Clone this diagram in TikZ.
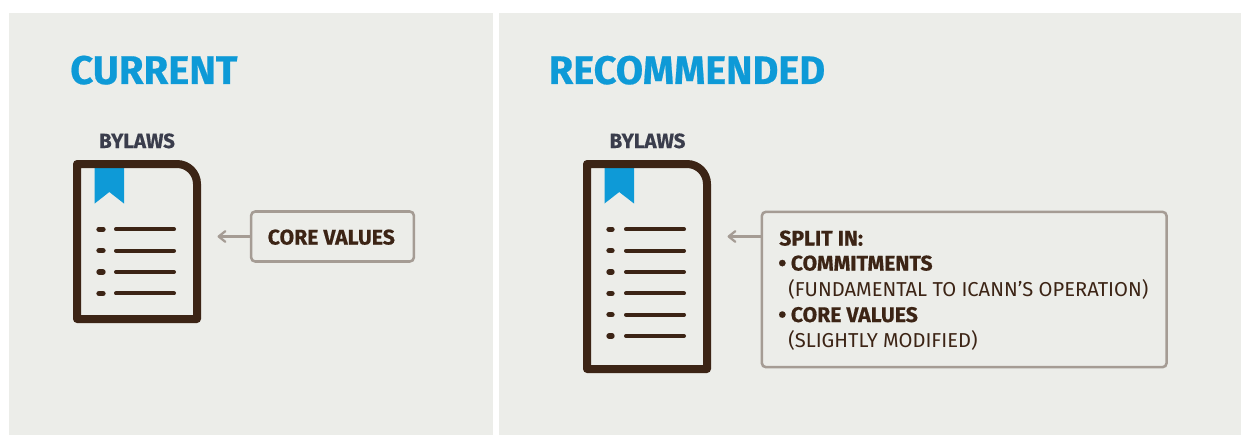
\documentclass[tikz,border=0pt]{standalone}
\usepackage{fontspec}
\usepackage{graphicx}
\usetikzlibrary{arrows.meta}
\setmainfont{Fira Sans}[BoldFeatures={FakeBold=0.5}]
\definecolor{panel}{HTML}{ECEDE9}
\definecolor{docbrown}{HTML}{3C2415}
\definecolor{boxgrey}{HTML}{A59C94}
\definecolor{headblue}{HTML}{0E9AD7}
\definecolor{darkslate}{HTML}{3A3D4C}
\newcommand{\bigbullet}{\makebox[9.4pt][l]{\raisebox{-0.4pt}{\scalebox{1.1}{•}}}}
\tikzset{
  panelbg/.style={fill=panel,draw=none},
  doc/.style={draw=docbrown,line width=6pt,line join=round},
  ribbon/.style={fill=headblue,draw=none},
  itemline/.style={draw=docbrown,line width=3pt,line cap=round},
  itemdot/.style={draw=docbrown,line width=4pt,line cap=round},
  callout/.style={draw=boxgrey,line width=1.9pt,rounded corners=3pt,inner sep=0pt},
  pointer/.style={draw=boxgrey,line width=1.7pt,line cap=round,-{Straight Barb[length=5pt,width=8pt,round]}},
  heading/.style={text=headblue,font=\fontsize{30}{32}\selectfont\bfseries,anchor=base west,inner sep=0pt},
  bylaws/.style={text=darkslate,font=\fontsize{15.4}{17}\selectfont\bfseries,anchor=base,inner sep=0pt},
  strong/.style={text=docbrown,font=\fontsize{15.9}{18}\selectfont\bfseries,anchor=base west,inner sep=0pt},
  plain/.style={text=docbrown,font=\fontsize{15.1}{17}\selectfont,anchor=base west,inner sep=0pt},
}
\begin{document}
\begin{tikzpicture}[x=0.75pt,y=-0.75pt]
\useasboundingbox (0,0) rectangle (1241,435);
\fill[white] (0,0) rectangle (1241,435);
\path[panelbg] (9,13) rectangle (493,435);
\path[panelbg] (499,13) rectangle (1241,435);
% headings
\node[heading] (cur) at (70,84) {CURRENT};
\node[heading,font=\fontsize{29.8}{32}\selectfont\bfseries] (rec) at (548.5,84) {RECOMMENDED};
% left document
\node[bylaws] (by1) at (137,148) {BYLAWS};
\path[ribbon] (94.7,165) -- (124,165) -- (124,203.5) -- (109.3,192) -- (94.7,203.5) -- cycle;
\draw[doc] (77,164) -- (177,164) arc[start angle=-90,end angle=0,radius=20] -- (197,319) -- (77,319) -- cycle;
\foreach \yy in {229.3,250.7,272,293.4}{
  \draw[itemdot] (99,\yy) -- (103,\yy);
  \draw[itemline] (116,\yy) -- (174,\yy);
}
% right document
\node[bylaws] (by2) at (647.5,148) {BYLAWS};
\path[ribbon] (604.5,165) -- (634,165) -- (634,203.5) -- (619.2,192) -- (604.5,203.5) -- cycle;
\draw[doc] (587,164) -- (687,164) arc[start angle=-90,end angle=0,radius=20] -- (707,369) -- (587,369) -- cycle;
\foreach \yy in {229.3,250.7,272,293.4,314.7,336}{
  \draw[itemdot] (609,\yy) -- (612,\yy);
  \draw[itemline] (626,\yy) -- (684,\yy);
}
% callouts
\node[callout,minimum width=122pt,minimum height=37.5pt] (box1) at (332.5,236.5) {};
\node[strong] (cv) at (267.5,244.5) {CORE VALUES};
\coordinate (tip1) at (217.5,236.5);
\draw[pointer] (box1.west) -- (tip1);
\node[callout,minimum width=303.5pt,minimum height=116.5pt] (box2) at (964.2,289.5) {};
\coordinate (tip2) at (727.5,236.5);
\draw[pointer] (box2.west |- tip2) -- (tip2);
\node[strong] (l1) at (779,245.5) {SPLIT IN:};
\node[strong] (l2) at (778,270.5) {\bigbullet COMMITMENTS};
\node[plain] (l3) at (788,296) {(FUNDAMENTAL TO ICANN’S OPERATION)};
\node[strong] (l4) at (778,322) {\bigbullet CORE VALUES};
\node[plain] (l5) at (788,347) {(SLIGHTLY MODIFIED)};
\end{tikzpicture}
\end{document}
